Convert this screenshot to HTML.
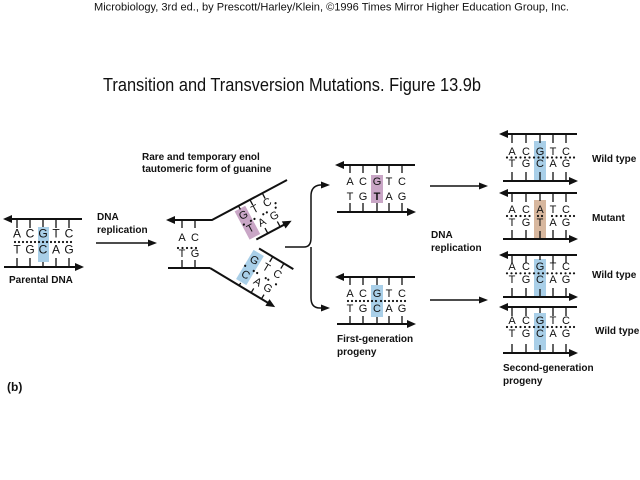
<!DOCTYPE html>
<html><head><meta charset="utf-8"><style>
html,body{margin:0;padding:0;background:#fff;}
svg{display:block;}
text{font-family:"Liberation Sans",Arial,sans-serif;fill:#111;}
.b{font-weight:bold;font-size:10px;}
.n{font-size:11px;text-anchor:middle;}
.s{stroke:#111;stroke-width:2;fill:none;}
.t{stroke:#111;stroke-width:1.3;}
.d{fill:#111;}
.d circle{r:1.1px;}
</style></head><body>
<svg width="640" height="480" viewBox="0 0 640 480" xmlns="http://www.w3.org/2000/svg">
<text x="94" y="10.5" font-size="11" textLength="475" lengthAdjust="spacingAndGlyphs">Microbiology, 3rd ed., by Prescott/Harley/Klein, ©1996 Times Mirror Higher Education Group, Inc.</text>
<text x="103" y="91" font-size="18" textLength="378" lengthAdjust="spacingAndGlyphs">Transition and Transversion Mutations.  Figure 13.9b</text>

<!-- Parental DNA -->
<rect x="38" y="227" width="11" height="35" fill="#a9cfe8"/>
<line class="s" x1="10" y1="219" x2="82" y2="219"/>
<polygon class="d" points="3,219 12,215 12,223"/>
<g class="t"><line x1="17" y1="219" x2="17" y2="228"/><line x1="30" y1="219" x2="30" y2="228"/><line x1="43" y1="219" x2="43" y2="227"/><line x1="56" y1="219" x2="56" y2="228"/><line x1="69" y1="219" x2="69" y2="228"/>
<line x1="17" y1="258" x2="17" y2="267"/><line x1="30" y1="258" x2="30" y2="267"/><line x1="43" y1="262" x2="43" y2="267"/><line x1="56" y1="258" x2="56" y2="267"/><line x1="69" y1="258" x2="69" y2="267"/></g>
<g class="n" style="font-size:12px"><text x="17" y="237.5">A</text><text x="30" y="237.5">C</text><text x="43" y="237.5">G</text><text x="56" y="237.5">T</text><text x="69" y="237.5">C</text>
<text x="17" y="253.5">T</text><text x="30" y="253.5">G</text><text x="43" y="253.5">C</text><text x="56" y="253.5">A</text><text x="69" y="253.5">G</text></g>
<g class="d"><circle cx="15" cy="242" r="0.9"/><circle cx="19" cy="242" r="0.9"/><circle cx="23" cy="242" r="0.9"/><circle cx="27" cy="242" r="0.9"/><circle cx="31" cy="242" r="0.9"/><circle cx="35" cy="242" r="0.9"/><circle cx="39" cy="242" r="1.2"/><circle cx="43" cy="242" r="0.9"/><circle cx="47" cy="242" r="1.2"/><circle cx="51" cy="242" r="0.9"/><circle cx="55" cy="242" r="0.9"/><circle cx="59" cy="242" r="0.9"/><circle cx="63" cy="242" r="0.9"/><circle cx="67" cy="242" r="0.9"/><circle cx="71" cy="242" r="0.9"/></g>
<line class="s" x1="4" y1="267" x2="76" y2="267"/>
<polygon class="d" points="84,267 75,263 75,271"/>
<text class="b" x="9" y="283">Parental DNA</text>

<text class="b" x="97" y="220">DNA</text>
<text class="b" x="97" y="233">replication</text>
<line class="s" x1="96" y1="243" x2="149" y2="243" style="stroke-width:1.5"/>
<polygon class="d" points="157,243 148,239.5 148,246.5"/>

<!-- Fork -->
<text class="b" x="142" y="160">Rare and temporary enol</text>
<text class="b" x="142" y="172">tautomeric form of guanine</text>
<path class="s" d="M174 220 L212 220 L287 180"/>
<polygon class="d" points="166,220 175,216 175,224"/>
<path class="s" d="M168 268 L210 268"/>
<g class="t"><line x1="182" y1="220" x2="182" y2="228"/><line x1="195" y1="220" x2="195" y2="228"/><line x1="182" y1="260" x2="182" y2="268"/><line x1="195" y1="260" x2="195" y2="268"/></g>
<g class="n"><text x="182" y="241">A</text><text x="195" y="241">C</text><text x="182" y="257">T</text><text x="195" y="257">G</text></g>
<g class="d"><circle cx="178" cy="248" r="0.9"/><circle cx="182.5" cy="248" r="0.9"/><circle cx="187" cy="248" r="0.9"/><circle cx="191.5" cy="248" r="0.9"/><circle cx="196" cy="248" r="0.9"/></g>

<g transform="translate(212,220) rotate(-28)">
<rect x="24" y="3" width="12" height="32" fill="#c9a6c6"/>
<line class="s" x1="30" y1="38" x2="62" y2="38"/>
<polygon class="d" points="70,38 61,34 61,42"/>
<g class="t"><line x1="30" y1="0" x2="30" y2="4"/><line x1="43" y1="0" x2="43" y2="6"/><line x1="57" y1="0" x2="57" y2="6"/><line x1="43" y1="38" x2="43" y2="32"/><line x1="57" y1="38" x2="57" y2="32"/></g>
<g class="n"><text x="30" y="14">G</text><text x="43" y="14">T</text><text x="57" y="14">C</text><text x="30" y="29">T</text><text x="43" y="29">A</text><text x="57" y="29">G</text></g>
<g class="d"><circle cx="26" cy="19" r="1.1"/><circle cx="34" cy="19" r="1.1"/><circle cx="38" cy="19" r="1"/><circle cx="48" cy="19" r="1"/><circle cx="52" cy="19" r="1"/><circle cx="62" cy="19" r="1"/><circle cx="64" cy="15" r="1"/></g>
</g>

<g transform="translate(210,268) rotate(31)">
<rect x="28" y="-38" width="12" height="34" fill="#a9cfe8"/>
<line class="s" x1="0" y1="0" x2="68" y2="0"/>
<polygon class="d" points="76,0 67,-4 67,4"/>
<line class="s" x1="32" y1="-42" x2="72" y2="-42"/>
<g class="t"><line x1="48" y1="-42" x2="48" y2="-36"/><line x1="61" y1="-42" x2="61" y2="-36"/><line x1="48" y1="0" x2="48" y2="-5"/><line x1="60" y1="0" x2="60" y2="-5"/><line x1="34" y1="0" x2="34" y2="-3"/></g>
<g class="n"><text x="34" y="-26">G</text><text x="48" y="-26">T</text><text x="61" y="-26">C</text><text x="34" y="-9">C</text><text x="48" y="-9">A</text><text x="60" y="-9">G</text></g>
<g class="d"><circle cx="29" cy="-20" r="1.1"/><circle cx="39" cy="-20" r="1.1"/><circle cx="43" cy="-20" r="1"/><circle cx="53" cy="-20" r="1"/><circle cx="56" cy="-20" r="1"/><circle cx="65" cy="-20" r="1"/></g>
</g>

<!-- Brace -->
<path d="M285 247 L304 247 Q311 247 311 238 L311 196 Q311 186 320 185 L322 185" fill="none" stroke="#111" stroke-width="1.5"/>
<path d="M311 247 L311 298 Q311 308 320 308 L322 308" fill="none" stroke="#111" stroke-width="1.5"/>
<polygon class="d" points="330,185 321,181.5 321,188.5"/>
<polygon class="d" points="330,308 321,304.5 321,311.5"/>

<!-- First-generation top -->
<rect x="371" y="175" width="12" height="28" fill="#c9a6c6"/>
<line class="s" x1="342" y1="165" x2="415" y2="165"/>
<polygon class="d" points="335,165 344,161 344,169"/>
<g class="t"><line x1="350" y1="165" x2="350" y2="173"/><line x1="363" y1="165" x2="363" y2="173"/><line x1="377" y1="165" x2="377" y2="173"/><line x1="389" y1="165" x2="389" y2="173"/><line x1="402" y1="165" x2="402" y2="173"/>
<line x1="350" y1="203" x2="350" y2="212"/><line x1="363" y1="203" x2="363" y2="212"/><line x1="377" y1="203" x2="377" y2="212"/><line x1="389" y1="203" x2="389" y2="212"/><line x1="402" y1="203" x2="402" y2="212"/></g>
<g class="n"><text x="350" y="185">A</text><text x="363" y="185">C</text><text x="377" y="185">G</text><text x="389" y="185">T</text><text x="402" y="185">C</text>
<text x="350" y="200">T</text><text x="363" y="200">G</text><text x="377" y="200" font-weight="bold">T</text><text x="389" y="200">A</text><text x="402" y="200">G</text></g>
<line class="s" x1="337" y1="212" x2="408" y2="212"/>
<polygon class="d" points="416,212 407,208 407,216"/>

<!-- First-generation bottom -->
<rect x="371" y="285" width="12" height="32" fill="#a9cfe8"/>
<line class="s" x1="342" y1="277" x2="415" y2="277"/>
<polygon class="d" points="335,277 344,273 344,281"/>
<g class="t"><line x1="350" y1="277" x2="350" y2="285"/><line x1="363" y1="277" x2="363" y2="285"/><line x1="377" y1="277" x2="377" y2="285"/><line x1="389" y1="277" x2="389" y2="285"/><line x1="402" y1="277" x2="402" y2="285"/>
<line x1="350" y1="316" x2="350" y2="324"/><line x1="363" y1="316" x2="363" y2="324"/><line x1="377" y1="317" x2="377" y2="324"/><line x1="389" y1="316" x2="389" y2="324"/><line x1="402" y1="316" x2="402" y2="324"/></g>
<g class="n"><text x="350" y="297">A</text><text x="363" y="297">C</text><text x="377" y="297">G</text><text x="389" y="297">T</text><text x="402" y="297">C</text>
<text x="350" y="312">T</text><text x="363" y="312">G</text><text x="377" y="312">C</text><text x="389" y="312">A</text><text x="402" y="312">G</text></g>
<g class="d"><circle cx="348" cy="301" r="0.9"/><circle cx="352" cy="301" r="0.9"/><circle cx="356" cy="301" r="0.9"/><circle cx="360" cy="301" r="0.9"/><circle cx="364" cy="301" r="0.9"/><circle cx="368" cy="301" r="0.9"/><circle cx="372" cy="301" r="1.2"/><circle cx="376" cy="301" r="0.9"/><circle cx="381" cy="301" r="1.2"/><circle cx="385" cy="301" r="0.9"/><circle cx="389" cy="301" r="0.9"/><circle cx="393" cy="301" r="0.9"/><circle cx="397" cy="301" r="0.9"/><circle cx="401" cy="301" r="0.9"/><circle cx="405" cy="301" r="0.9"/></g>
<line class="s" x1="337" y1="324" x2="408" y2="324"/>
<polygon class="d" points="416,324 407,320 407,328"/>
<text class="b" x="337" y="342">First-generation</text>
<text class="b" x="337" y="355">progeny</text>

<!-- Middle arrows -->
<line x1="430" y1="186" x2="480" y2="186" stroke="#111" stroke-width="1.5"/>
<polygon class="d" points="488,186 479,182.5 479,189.5"/>
<line x1="430" y1="300" x2="480" y2="300" stroke="#111" stroke-width="1.5"/>
<polygon class="d" points="488,300 479,296.5 479,303.5"/>
<text class="b" x="431" y="238">DNA</text>
<text class="b" x="431" y="251">replication</text>

<!-- Right DNA 1 -->
<rect x="534" y="141" width="12" height="39" fill="#a9cfe8"/>
<line class="s" x1="507" y1="134" x2="577" y2="134"/>
<polygon class="d" points="499,134 508,130 508,138"/>
<g class="t"><line x1="512" y1="134" x2="512" y2="143"/><line x1="526" y1="134" x2="526" y2="143"/><line x1="540" y1="134" x2="540" y2="143"/><line x1="553" y1="134" x2="553" y2="143"/><line x1="566" y1="134" x2="566" y2="143"/>
<line x1="512" y1="172" x2="512" y2="181"/><line x1="526" y1="172" x2="526" y2="181"/><line x1="540" y1="172" x2="540" y2="181"/><line x1="553" y1="172" x2="553" y2="181"/><line x1="566" y1="172" x2="566" y2="181"/></g>
<g class="n"><text x="512" y="155">A</text><text x="526" y="155">C</text><text x="540" y="155">G</text><text x="553" y="155">T</text><text x="566" y="155">C</text>
<text x="512" y="167">T</text><text x="526" y="167">G</text><text x="540" y="167">C</text><text x="553" y="167">A</text><text x="566" y="167">G</text></g>
<g class="d"><circle cx="507" cy="157.5" r="0.9"/><circle cx="511.5" cy="157.5" r="0.9"/><circle cx="516" cy="157.5" r="0.9"/><circle cx="520.5" cy="157.5" r="0.9"/><circle cx="525" cy="157.5" r="0.9"/><circle cx="529.5" cy="157.5" r="0.9"/><circle cx="534" cy="157.5" r="1.2"/><circle cx="538.5" cy="157.5" r="0.9"/><circle cx="543" cy="157.5" r="1.2"/><circle cx="547.5" cy="157.5" r="0.9"/><circle cx="552" cy="157.5" r="0.9"/><circle cx="556.5" cy="157.5" r="0.9"/><circle cx="561" cy="157.5" r="0.9"/><circle cx="565.5" cy="157.5" r="0.9"/><circle cx="570" cy="157.5" r="0.9"/><circle cx="574" cy="157.5" r="0.9"/></g>
<line class="s" x1="503" y1="181" x2="570" y2="181"/>
<polygon class="d" points="578,181 569,177 569,185"/>
<text class="b" x="592" y="162">Wild type</text>

<!-- Right DNA 2 (mutant) -->
<rect x="534" y="200" width="12" height="40" fill="#d7b79e"/>
<line class="s" x1="507" y1="193" x2="577" y2="193"/>
<polygon class="d" points="499,193 508,189 508,197"/>
<g class="t"><line x1="512" y1="193" x2="512" y2="202"/><line x1="526" y1="193" x2="526" y2="202"/><line x1="540" y1="193" x2="540" y2="201"/><line x1="553" y1="193" x2="553" y2="202"/><line x1="566" y1="193" x2="566" y2="202"/>
<line x1="512" y1="230" x2="512" y2="239"/><line x1="526" y1="230" x2="526" y2="239"/><line x1="540" y1="231" x2="540" y2="239"/><line x1="553" y1="230" x2="553" y2="239"/><line x1="566" y1="230" x2="566" y2="239"/></g>
<g class="n"><text x="512" y="213">A</text><text x="526" y="213">C</text><text x="540" y="213">A</text><text x="553" y="213">T</text><text x="566" y="213">C</text>
<text x="512" y="226">T</text><text x="526" y="226">G</text><text x="540" y="226">T</text><text x="553" y="226">A</text><text x="566" y="226">G</text></g>
<g class="d"><circle cx="507" cy="216" r="0.9"/><circle cx="511.5" cy="216" r="0.9"/><circle cx="516" cy="216" r="0.9"/><circle cx="520.5" cy="216" r="0.9"/><circle cx="525" cy="216" r="0.9"/><circle cx="529.5" cy="216" r="0.9"/><circle cx="538" cy="216" r="1.2"/><circle cx="542" cy="216" r="1.2"/><circle cx="552" cy="216" r="0.9"/><circle cx="556.5" cy="216" r="0.9"/><circle cx="561" cy="216" r="0.9"/><circle cx="565.5" cy="216" r="0.9"/><circle cx="570" cy="216" r="0.9"/><circle cx="574" cy="216" r="0.9"/></g>
<line class="s" x1="503" y1="239" x2="570" y2="239"/>
<polygon class="d" points="578,239 569,235 569,243"/>
<text class="b" x="592" y="221">Mutant</text>

<!-- Right DNA 3 -->
<rect x="534" y="259" width="12" height="37" fill="#a9cfe8"/>
<line class="s" x1="507" y1="255" x2="577" y2="255"/>
<polygon class="d" points="499,255 508,251 508,259"/>
<g class="t"><line x1="512" y1="255" x2="512" y2="263"/><line x1="526" y1="255" x2="526" y2="263"/><line x1="540" y1="255" x2="540" y2="260"/><line x1="553" y1="255" x2="553" y2="263"/><line x1="566" y1="255" x2="566" y2="263"/>
<line x1="512" y1="288" x2="512" y2="297"/><line x1="526" y1="288" x2="526" y2="297"/><line x1="540" y1="289" x2="540" y2="297"/><line x1="553" y1="288" x2="553" y2="297"/><line x1="566" y1="288" x2="566" y2="297"/></g>
<g class="n"><text x="512" y="270">A</text><text x="526" y="270">C</text><text x="540" y="270">G</text><text x="553" y="270">T</text><text x="566" y="270">C</text>
<text x="512" y="283">T</text><text x="526" y="283">G</text><text x="540" y="283">C</text><text x="553" y="283">A</text><text x="566" y="283">G</text></g>
<g class="d"><circle cx="507" cy="273.3" r="0.9"/><circle cx="511.5" cy="273.3" r="0.9"/><circle cx="516" cy="273.3" r="0.9"/><circle cx="520.5" cy="273.3" r="0.9"/><circle cx="525" cy="273.3" r="0.9"/><circle cx="529.5" cy="273.3" r="0.9"/><circle cx="534" cy="273.3" r="1.2"/><circle cx="538.5" cy="273.3" r="0.9"/><circle cx="543" cy="273.3" r="1.2"/><circle cx="547.5" cy="273.3" r="0.9"/><circle cx="552" cy="273.3" r="0.9"/><circle cx="556.5" cy="273.3" r="0.9"/><circle cx="561" cy="273.3" r="0.9"/><circle cx="565.5" cy="273.3" r="0.9"/><circle cx="570" cy="273.3" r="0.9"/><circle cx="574" cy="273.3" r="0.9"/></g>
<line class="s" x1="503" y1="297" x2="570" y2="297"/>
<polygon class="d" points="578,297 569,293 569,301"/>
<text class="b" x="592" y="278">Wild type</text>

<!-- Right DNA 4 -->
<rect x="534" y="313" width="12" height="37" fill="#a9cfe8"/>
<line class="s" x1="507" y1="307" x2="577" y2="307"/>
<polygon class="d" points="499,307 508,303 508,311"/>
<g class="t"><line x1="512" y1="307" x2="512" y2="316"/><line x1="526" y1="307" x2="526" y2="316"/><line x1="540" y1="307" x2="540" y2="313"/><line x1="553" y1="307" x2="553" y2="316"/><line x1="566" y1="307" x2="566" y2="316"/>
<line x1="512" y1="344" x2="512" y2="353"/><line x1="526" y1="344" x2="526" y2="353"/><line x1="540" y1="345" x2="540" y2="353"/><line x1="553" y1="344" x2="553" y2="353"/><line x1="566" y1="344" x2="566" y2="353"/></g>
<g class="n"><text x="512" y="324">A</text><text x="526" y="324">C</text><text x="540" y="324">G</text><text x="553" y="324">T</text><text x="566" y="324">C</text>
<text x="512" y="337">T</text><text x="526" y="337">G</text><text x="540" y="337">C</text><text x="553" y="337">A</text><text x="566" y="337">G</text></g>
<g class="d"><circle cx="507" cy="327" r="0.9"/><circle cx="511.5" cy="327" r="0.9"/><circle cx="516" cy="327" r="0.9"/><circle cx="520.5" cy="327" r="0.9"/><circle cx="525" cy="327" r="0.9"/><circle cx="529.5" cy="327" r="0.9"/><circle cx="534" cy="327" r="1.2"/><circle cx="538.5" cy="327" r="0.9"/><circle cx="543" cy="327" r="1.2"/><circle cx="547.5" cy="327" r="0.9"/><circle cx="552" cy="327" r="0.9"/><circle cx="556.5" cy="327" r="0.9"/><circle cx="561" cy="327" r="0.9"/><circle cx="565.5" cy="327" r="0.9"/><circle cx="570" cy="327" r="0.9"/><circle cx="574" cy="327" r="0.9"/></g>
<line class="s" x1="503" y1="353" x2="570" y2="353"/>
<polygon class="d" points="578,353 569,349 569,357"/>
<text class="b" x="595" y="334">Wild type</text>

<text class="b" x="503" y="371">Second-generation</text>
<text class="b" x="503" y="384">progeny</text>

<text x="7" y="391" font-size="12" font-weight="bold">(b)</text>
</svg>
</body></html>
